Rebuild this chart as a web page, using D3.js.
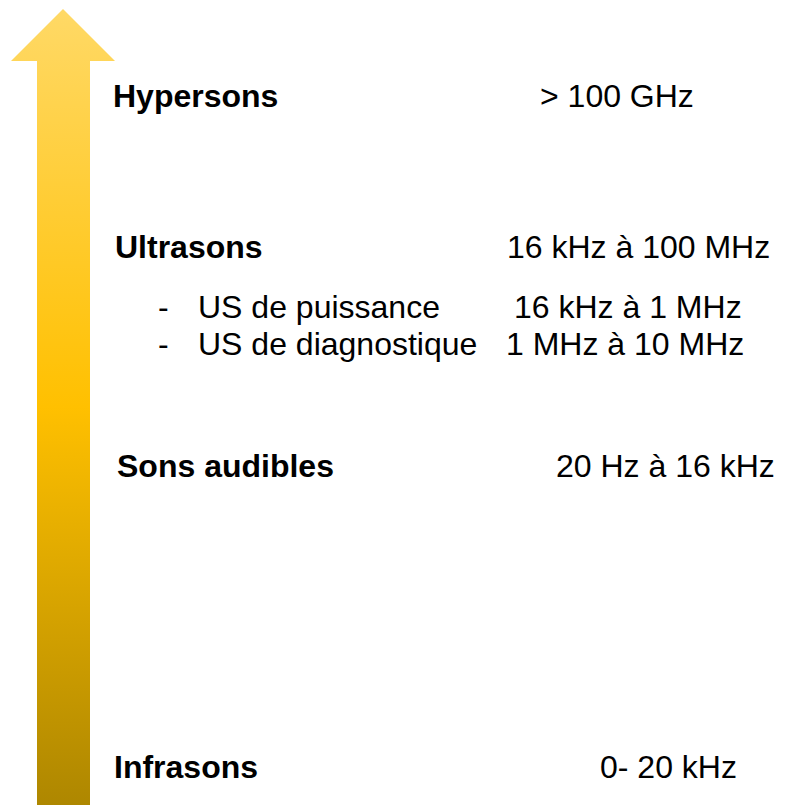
<!DOCTYPE html>
<html>
<head>
<meta charset="utf-8">
<script src="https://cdn.jsdelivr.net/npm/d3@7"></script>
<style>
  html, body { margin: 0; padding: 0; background: #fff; }
  svg { display: block; }
</style>
</head>
<body>
<svg id="chart" width="789" height="805"></svg>
<script>
// ---- data ----
const categories = ["Hypersons", "Ultrasons", "Sons audibles", "Infrasons"];
const ranges = ["> 100 GHz", "16 kHz à 100 MHz", "20 Hz à 16 kHz", "0- 20 kHz"];
const subCategories = ["US de puissance", "US de diagnostique"];
const subRanges = ["16 kHz à 1 MHz", "1 MHz à 10 MHz"];

// ---- layout ----
const W = 789, H = 805;
const svg = d3.select("#chart");
const font = "'Liberation Sans', Arial, Helvetica, sans-serif";

const y = d3.scaleOrdinal().domain(categories).range([107, 258, 477, 778]);
const labelX = d3.scaleOrdinal().domain(categories).range([113, 115, 117, 114]);
const valueX = d3.scaleOrdinal().domain(categories).range([540, 507, 556, 600]);
const ySub = d3.scaleOrdinal().domain(subCategories).range([318, 355]);
const subValueX = d3.scaleOrdinal().domain(subCategories).range([514, 506]);

// ---- arrow ----
const defs = svg.append("defs");
const grad = defs.append("linearGradient")
  .attr("id", "arrowGrad")
  .attr("x1", 0).attr("y1", 0).attr("x2", 0).attr("y2", 1);
grad.append("stop").attr("offset", "0%").attr("stop-color", "#FFD966");
grad.append("stop").attr("offset", "50%").attr("stop-color", "#FFC000");
grad.append("stop").attr("offset", "100%").attr("stop-color", "#AE8700");

const tipX = 63, tipY = 9, headY = 61, headL = 11, headR = 115, shaftL = 37, shaftR = 90;
const arrowPts = [
  [tipX, tipY], [headR, headY], [shaftR, headY], [shaftR, H],
  [shaftL, H], [shaftL, headY], [headL, headY]
];
svg.append("path")
  .attr("d", d3.line()(arrowPts) + "Z")
  .attr("fill", "url(#arrowGrad)");

// ---- main labels ----
const g = svg.append("g").attr("font-family", font).attr("font-size", 32).attr("fill", "#000");

g.selectAll("text.cat")
  .data(categories)
  .join("text")
  .attr("class", "cat")
  .attr("x", d => labelX(d))
  .attr("y", d => y(d))
  .attr("font-weight", "bold")
  .text(d => d);

g.selectAll("text.range")
  .data(categories)
  .join("text")
  .attr("class", "range")
  .attr("x", d => valueX(d))
  .attr("y", d => y(d))
  .text((d, i) => ranges[i]);

// ---- sub items ----
g.selectAll("text.dash")
  .data(subCategories)
  .join("text")
  .attr("class", "dash")
  .attr("x", 158)
  .attr("y", d => ySub(d))
  .text("-");

g.selectAll("text.sub")
  .data(subCategories)
  .join("text")
  .attr("class", "sub")
  .attr("x", 198)
  .attr("y", d => ySub(d))
  .text(d => d);

g.selectAll("text.subrange")
  .data(subCategories)
  .join("text")
  .attr("class", "subrange")
  .attr("x", d => subValueX(d))
  .attr("y", d => ySub(d))
  .text((d, i) => subRanges[i]);
</script>
</body>
</html>
